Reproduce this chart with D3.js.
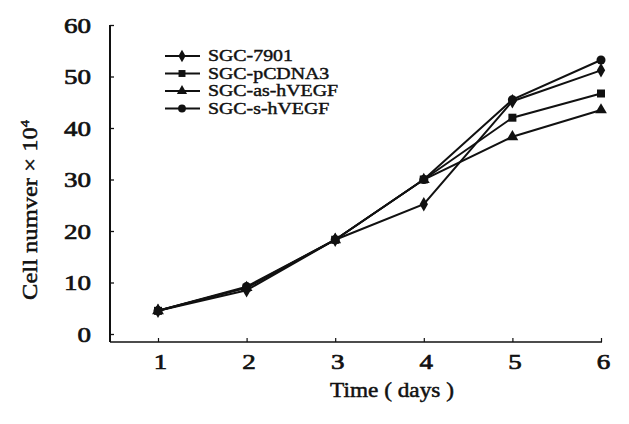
<!DOCTYPE html>
<html>
<head>
<meta charset="utf-8">
<script src="https://cdn.jsdelivr.net/npm/d3@7"></script>
<style>
  body { margin: 0; background: #fff; }
  svg text { font-family: "Liberation Serif", "Times New Roman", Tinos, serif; fill: #111; }
</style>
</head>
<body>
<svg id="chart" width="629" height="424"></svg>
<script>
// growth curves, cell number x 10^4 per day
const days = [1, 2, 3, 4, 5, 6];
const sgc7901 = [4.5, 8.5, 18.3, 25.2, 45.2, 51.2];
const pcdna3 = [4.5, 9.0, 18.3, 30.0, 42.0, 46.7];
const asHVEGF = [4.5, 9.0, 18.3, 30.0, 38.3, 43.5];
const sHVEGF = [4.5, 9.2, 18.3, 30.0, 45.5, 53.2];
const seriesNames = ["SGC-7901", "SGC-pCDNA3", "SGC-as-hVEGF", "SGC-s-hVEGF"];
const yTicks = [0, 10, 20, 30, 40, 50, 60];

const series = [
    { name: seriesNames[0], values: sgc7901, symbol: d3.symbolDiamond, size: 60 },
    { name: seriesNames[1], values: pcdna3, symbol: d3.symbolSquare, size: 64 },
    { name: seriesNames[2], values: asHVEGF, symbol: d3.symbolTriangle, size: 60 },
    { name: seriesNames[3], values: sHVEGF, symbol: d3.symbolCircle, size: 64 }
];

const svg = d3.select("#chart");
const ink = "#111";

const x = d3.scaleLinear().domain([1, 6]).range([158, 601]);
const y = d3.scaleLinear().domain([0, 60]).range([334, 25]);
const axisLeftX = 110, axisBottomY = 342;

// the scan's lettering is wider than any installed serif, so stretch text
// horizontally until a sample string reaches the width it has in the scan
function stretch(node, target) {
    return target / node.getComputedTextLength();
}

// axis lines (the x axis sits a little below zero, as in the scan)
svg.append("line")
    .attr("x1", axisLeftX).attr("x2", axisLeftX)
    .attr("y1", y(60)).attr("y2", axisBottomY)
    .attr("stroke", ink).attr("stroke-width", 2);
svg.append("line")
    .attr("x1", axisLeftX).attr("x2", 602)
    .attr("y1", axisBottomY).attr("y2", axisBottomY)
    .attr("stroke", ink).attr("stroke-width", 1.6);

// y axis ticks + labels
const yAxis = svg.append("g")
    .attr("transform", `translate(${axisLeftX},0)`)
    .call(d3.axisLeft(y).tickValues(yTicks).tickSize(-4).tickFormat(d3.format("d")));
yAxis.select(".domain").remove();
yAxis.attr("font-family", null).attr("font-size", null);
yAxis.selectAll(".tick line").attr("stroke", ink).attr("stroke-width", 1.3);
const yLabels = yAxis.selectAll(".tick text")
    .attr("x", null).attr("dy", null)
    .attr("text-anchor", "end")
    .style("font-size", "22px")
    .attr("stroke", ink).attr("stroke-width", 0.7);
const kTick = stretch(yLabels.filter(d => d === 60).node(), 27);
yLabels.attr("transform", `translate(-19,7) scale(${kTick},1)`);

// x axis ticks + labels
const xAxis = svg.append("g")
    .attr("transform", `translate(0,${axisBottomY})`)
    .call(d3.axisBottom(x).tickValues(days).tickSize(-4).tickFormat(d3.format("d")));
xAxis.select(".domain").remove();
xAxis.attr("font-family", null).attr("font-size", null);
xAxis.selectAll(".tick line").attr("stroke", ink).attr("stroke-width", 1.2);
xAxis.selectAll(".tick text")
    .attr("y", null).attr("dy", null)
    .attr("transform", `translate(2,27) scale(${kTick},1)`)
    .attr("text-anchor", "middle")
    .style("font-size", "22px")
    .attr("stroke", ink).attr("stroke-width", 0.7);

// axis titles
const xTitle = svg.append("text")
    .attr("text-anchor", "middle")
    .style("font-size", "21px")
    .attr("stroke", ink).attr("stroke-width", 0.5)
    .text("Time ( days )");
xTitle.attr("transform", `translate(392,397) scale(${stretch(xTitle.node(), 124)},1)`);

const yTitle = svg.append("text")
    .attr("text-anchor", "middle")
    .style("font-size", "22px")
    .attr("stroke", ink).attr("stroke-width", 0.5);
yTitle.append("tspan").text("Cell numver × 10");
yTitle.append("tspan").attr("dy", -8).style("font-size", "13px").text("4");
yTitle.attr("transform", `translate(37,210) rotate(-90) scale(${stretch(yTitle.node(), 180)},1)`);

// lines
const line = d3.line()
    .x((d, i) => x(days[i]))
    .y(d => y(d));

svg.append("g").selectAll("path")
    .data(series)
    .join("path")
    .attr("d", d => line(d.values))
    .attr("fill", "none")
    .attr("stroke", ink)
    .attr("stroke-width", 2);

// markers
series.forEach(s => {
    svg.append("g").selectAll("path")
        .data(s.values)
        .join("path")
        .attr("transform", (d, i) => `translate(${x(days[i])},${y(d)})`)
        .attr("d", d3.symbol().type(s.symbol).size(s.size))
        .attr("fill", ink);
});

// legend
const legend = svg.append("g").attr("transform", "translate(165,56)");
const rows = legend.selectAll("g")
    .data(series)
    .join("g")
    .attr("transform", (d, i) => `translate(0,${i * 17.5})`);
rows.append("line")
    .attr("x1", 0).attr("x2", 35)
    .attr("stroke", ink).attr("stroke-width", 1.8);
rows.append("path")
    .attr("transform", "translate(17,0)")
    .attr("d", d => d3.symbol().type(d.symbol).size(d.size * 0.75)())
    .attr("fill", ink);
const legendText = rows.append("text")
    .style("font-size", "17px")
    .attr("stroke", ink).attr("stroke-width", 0.45)
    .text(d => d.name);
const kLegend = stretch(legendText.node(), 85);
legendText.attr("transform", `translate(43,5) scale(${kLegend},1)`);
</script>
</body>
</html>
